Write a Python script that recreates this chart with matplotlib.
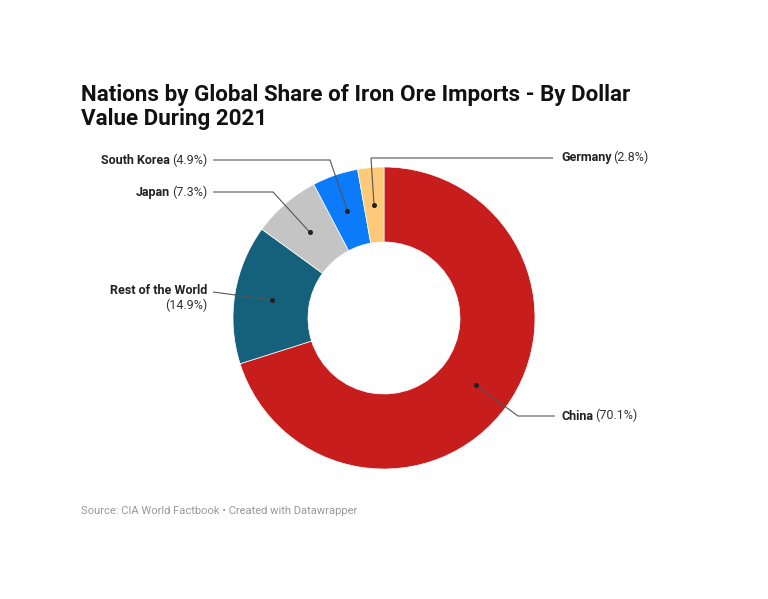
import numpy as np
import matplotlib
matplotlib.use("Agg")
import matplotlib.pyplot as plt

plt.rcParams["font.family"] = ["Roboto", "DejaVu Sans"]

# Data
countries = ["China", "Rest of the World", "Japan", "South Korea", "Germany"]
shares = [70.1, 14.9, 7.3, 4.9, 2.8]
colors = ["#c71e1d", "#15607a", "#c4c4c4", "#0b7bfa", "#fec979"]

title = "Nations by Global Share of Iron Ore Imports - By Dollar\nValue During 2021"
source = "Source: CIA World Factbook \u2022 Created with Datawrapper"

W, H = 768, 599
fig = plt.figure(figsize=(W / 100, H / 100), dpi=100)
ax = fig.add_axes([0, 0, 1, 1])

cx, cy = 384, H - 318
r_out, r_in = 151, 76

wedges, _ = ax.pie(
    shares,
    colors=colors,
    startangle=90,
    counterclock=False,
    center=(cx, cy),
    radius=r_out,
    wedgeprops=dict(width=r_out - r_in, edgecolor="white", linewidth=0.5),
)
ax.set_xlim(0, W)
ax.set_ylim(0, H)
ax.set_aspect("equal")
ax.axis("off")

# label anchor points: (text x, text y, side, elbow points in pixel coords)
label_layout = {
    "China": (561, 416, "left", [(518, 416), (555, 416)]),
    "Rest of the World": (207, 291, "right", [(213, 292)]),
    "Japan": (207, 192, "right", [(273, 192), (213, 192)]),
    "South Korea": (207, 160, "right", [(330, 160), (213, 160)]),
    "Germany": (561, 158, "left", [(371, 158), (553, 158)]),
}

fs = 9
r_mid = (r_out + r_in) / 2
cum = 0
for name, val, w in zip(countries, shares, wedges):
    mid = 90 - (cum + val / 2) * 3.6
    cum += val
    dx = cx + r_mid * np.cos(np.radians(mid))
    dy = cy + r_mid * np.sin(np.radians(mid))
    tx, ty, side, pts = label_layout[name]
    xs = [dx] + [p[0] for p in pts]
    ys = [dy] + [H - p[1] for p in pts]
    ax.plot(xs, ys, color="#555555", lw=0.8, solid_capstyle="butt")
    ax.plot(dx, dy, "o", ms=2.6, color="#222222")
    pct = f"({val}%)"
    if name == "Rest of the World":
        ax.text(tx, H - ty, name, ha="right", va="center", fontsize=fs,
                fontweight="bold", color="#222222")
        ax.text(tx, H - ty - 14, pct, ha="right", va="center", fontsize=fs,
                color="#333333")
    elif side == "right":
        t = ax.text(tx, H - ty, pct, ha="right", va="center", fontsize=fs,
                    color="#333333")
        ax.annotate(name, xy=(0, 0), xycoords=t, xytext=(-1.2, 0),
                    textcoords="offset points", ha="right", va="bottom",
                    fontsize=fs, fontweight="bold", color="#222222")
    else:
        t = ax.text(tx, H - ty, name, ha="left", va="center", fontsize=fs,
                    fontweight="bold", color="#222222")
        ax.annotate(pct, xy=(1, 0), xycoords=t, xytext=(1.2, 0),
                    textcoords="offset points", ha="left", va="bottom",
                    fontsize=fs, color="#333333")

fig.text(81 / W, 1 - 84 / H, title, ha="left", va="top", fontsize=16.1,
         fontweight="bold", color="#111111", linespacing=1.1)
fig.text(81 / W, 1 - 511 / H, source, ha="left", va="center", fontsize=8,
         color="#999999")

fig.savefig("out.png", dpi=100, facecolor="white")
